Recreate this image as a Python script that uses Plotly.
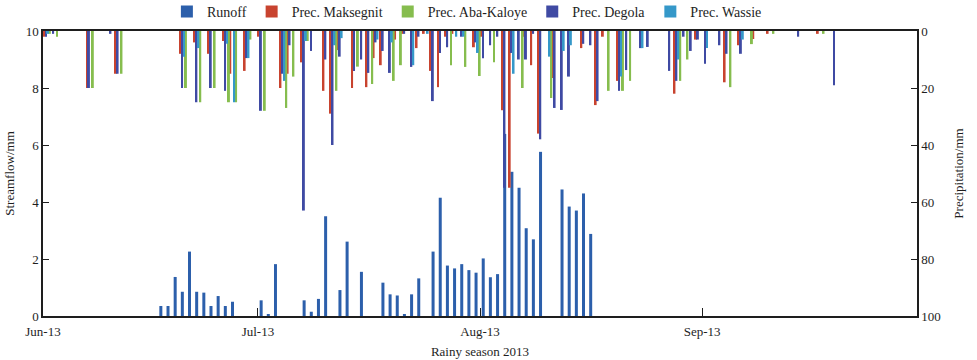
import plotly.graph_objects as go

# ---------------- data ----------------
runoff_dates = [
    "2013-06-17", "2013-06-18", "2013-06-19", "2013-06-20", "2013-06-21", "2013-06-22",
    "2013-06-23", "2013-06-24", "2013-06-25", "2013-06-26", "2013-06-27",
    "2013-07-01", "2013-07-02", "2013-07-03", "2013-07-07", "2013-07-08", "2013-07-09",
    "2013-07-10", "2013-07-12", "2013-07-13", "2013-07-15", "2013-07-18", "2013-07-19",
    "2013-07-20", "2013-07-21", "2013-07-22", "2013-07-23", "2013-07-25", "2013-07-26",
    "2013-07-27", "2013-07-28", "2013-07-29", "2013-07-30", "2013-07-31",
    "2013-08-01", "2013-08-02", "2013-08-03", "2013-08-04", "2013-08-05", "2013-08-06",
    "2013-08-07", "2013-08-08", "2013-08-09", "2013-08-12", "2013-08-13", "2013-08-14",
    "2013-08-15", "2013-08-16",
]
runoff_mm = [
    0.35, 0.35, 1.37, 0.85, 2.26, 0.85,
    0.82, 0.35, 0.70, 0.35, 0.50,
    0.55, 0.05, 1.82, 0.55, 0.15, 0.60,
    3.50, 0.91, 2.61, 1.55, 1.17, 0.76,
    0.72, 0.05, 0.76, 1.32, 2.26, 4.15,
    1.77, 1.67, 1.82, 1.61, 1.52,
    2.02, 1.36, 1.47, 6.39, 5.06, 4.50,
    3.08, 2.69, 5.76, 4.44, 3.84, 3.70,
    4.30, 2.88,
]

prec_dates = [
    "2013-06-01", "2013-06-02", "2013-06-07", "2013-06-10", "2013-06-11", "2013-06-20",
    "2013-06-22", "2013-06-24", "2013-06-26", "2013-06-27", "2013-06-29",
    "2013-07-01", "2013-07-04", "2013-07-05", "2013-07-07", "2013-07-08", "2013-07-10",
    "2013-07-11", "2013-07-12", "2013-07-14", "2013-07-15", "2013-07-16", "2013-07-17",
    "2013-07-18", "2013-07-19", "2013-07-20", "2013-07-21", "2013-07-22", "2013-07-23",
    "2013-07-24", "2013-07-25", "2013-07-26", "2013-07-27", "2013-07-28", "2013-07-29",
    "2013-07-31",
    "2013-08-01", "2013-08-02", "2013-08-03", "2013-08-04", "2013-08-05", "2013-08-06",
    "2013-08-07", "2013-08-08", "2013-08-09", "2013-08-10", "2013-08-11", "2013-08-12",
    "2013-08-13",
    "2013-08-15", "2013-08-16", "2013-08-17", "2013-08-18", "2013-08-20", "2013-08-21",
    "2013-08-23", "2013-08-24", "2013-08-27", "2013-08-28", "2013-08-29", "2013-08-30",
    "2013-08-31",
    "2013-09-01", "2013-09-03", "2013-09-04", "2013-09-06", "2013-09-07", "2013-09-08",
    "2013-09-10", "2013-09-14", "2013-09-17", "2013-09-19",
]
prec_maksegnit = [
    2, 0, 20, 0, 15, 8, 4, 8, 3.5, 15, 14,
    2, 20, 15, 11, 0, 21, 29, 6.7, 20, 0, 19.7, 9.5, 12, 0, 3, 1, 0, 6, 1, 14, 19.7, 2, 1, 0, 5.7,
    2, 0, 0, 27.8, 55, 0, 2, 12, 36, 0, 16.5, 0, 0,
    6, 0, 26, 2, 17.5, 0, 0, 0, 0, 22, 0, 0, 3,
    0, 0, 18, 5, 0, 2.8, 1, 0, 1, 0,
]
prec_aba_kaloye = [
    1, 2, 20, 0, 15, 20, 25, 20, 25, 25, 3,
    28, 27, 16, 3.5, 0, 0, 21, 0, 12.5, 0, 18.6, 0, 0, 17.5, 12, 0, 0, 0, 0, 0, 0, 12, 0, 12.6, 15.8,
    0, 11, 0, 0, 0, 20, 0, 0, 0, 23.5, 0, 0, 0,
    0, 0, 0, 21, 21, 17.5, 0, 0, 0, 17.5, 10, 0, 0,
    0, 0, 19.7, 0, 4.6, 0, 1, 0, 1, 0,
]
prec_degola = [
    2, 1, 20, 1, 15, 20, 25, 20, 21, 0, 9.5,
    28, 15, 5, 63, 7, 10, 40, 9, 14, 10, 14.7, 4, 7, 14.7, 0, 1, 12.6, 2, 0, 24.6, 7.7, 5.7, 0, 2, 4,
    9.6, 5, 2, 55, 7.7, 10, 10, 1, 38, 0, 27, 27.7, 16,
    4.5, 5, 24.6, 0, 21, 13.7, 6, 5.6, 14, 17.5, 2, 7, 3,
    11.5, 5, 8, 8, 0, 0, 0, 2, 0, 19,
]
prec_wassie = [
    1, 0, 0, 0, 0, 9, 6, 0, 4.5, 25, 9.5,
    0, 17.5, 0, 3.5, 0, 0, 5, 2.5, 0, 0, 0, 3, 0, 4, 0, 0, 12, 0, 1, 0, 0, 0, 2, 2, 7.7,
    0, 0, 0, 0, 15, 0, 0, 0, 0, 9, 0, 7, 5,
    0, 0, 0, 0, 16, 0, 6, 0, 0, 10, 0, 0, 0,
    6, 0, 0, 3, 0, 0, 0, 0, 0, 0,
]

x_tick_vals = ["2013-06-01", "2013-07-01", "2013-08-01", "2013-09-01", "2013-10-01"]
x_tick_text = ["Jun-13", "Jul-13", "Aug-13", "Sep-13", ""]

# ---------------- style ----------------
DAY = 86400000.0
FONT = "Liberation Serif, Times New Roman, serif"
INK = "#1e1e1e"
C_RUN = "#2c5fab"
C_MAK = "#c8432f"
C_ABA = "#86bd4e"
C_DEG = "#3f4aa3"
C_WAS = "#3598c9"

fig = go.Figure()

fig.add_trace(go.Bar(
    x=runoff_dates, y=runoff_mm, name="Runoff", yaxis="y",
    marker=dict(color=C_RUN, line=dict(width=0)),
    width=0.42 * DAY, offset=0.24 * DAY,
))

bw = 0.27
prec_series = [
    ("Prec. Maksegnit", prec_maksegnit, C_MAK, 0.01),
    ("Prec. Aba-Kaloye", prec_aba_kaloye, C_ABA, 0.82),
    ("Prec. Degola", prec_degola, C_DEG, 0.28),
    ("Prec. Wassie", prec_wassie, C_WAS, 0.55),
]
for name, vals, col, off in prec_series:
    fig.add_trace(go.Bar(
        x=prec_dates, y=vals, name=name, yaxis="y2",
        marker=dict(color=col, line=dict(width=0)),
        width=bw * DAY, offset=off * DAY,
    ))

fig.update_layout(
    width=977, height=360,
    margin=dict(l=43, r=60, t=31, b=44, autoexpand=False),
    paper_bgcolor="white", plot_bgcolor="white",
    barmode="overlay",
    font=dict(family=FONT, size=13, color=INK),
    showlegend=True,
    legend=dict(
        orientation="h", x=0.485, xanchor="center", y=1.067, yanchor="middle",
        font=dict(family=FONT, size=14, color=INK),
        itemwidth=30, traceorder="normal", bgcolor="rgba(0,0,0,0)",
    ),
    xaxis=dict(
        type="date", range=["2013-06-01", "2013-10-01"],
        tickvals=x_tick_vals, ticktext=x_tick_text,
        ticks="inside", ticklen=8, tickcolor=INK, tickwidth=1,
        ticklabelstandoff=3,
        showline=True, linecolor=INK, linewidth=1.5, mirror=True,
        showgrid=False, zeroline=False,
        title=dict(text="Rainy season 2013", font=dict(family=FONT, size=13), standoff=9),
        tickfont=dict(family=FONT, size=13),
    ),
    yaxis=dict(
        range=[0, 10], tickvals=[0, 2, 4, 6, 8, 10],
        ticks="inside", ticklen=6, tickcolor=INK,
        showline=True, linecolor=INK, linewidth=1.5,
        showgrid=False, zeroline=False,
        title=dict(text="Streamflow/mm", font=dict(family=FONT, size=13), standoff=8),
        tickfont=dict(family=FONT, size=13),
    ),
    yaxis2=dict(
        overlaying="y", side="right", range=[100, 0],
        tickvals=[0, 20, 40, 60, 80, 100],
        ticks="inside", ticklen=6, tickcolor=INK,
        showline=True, linecolor=INK, linewidth=1.5,
        showgrid=False, zeroline=False,
        title=dict(text="Precipitation/mm", font=dict(family=FONT, size=13), standoff=14),
        tickfont=dict(family=FONT, size=13),
    ),
)

fig.write_html("out.html")
